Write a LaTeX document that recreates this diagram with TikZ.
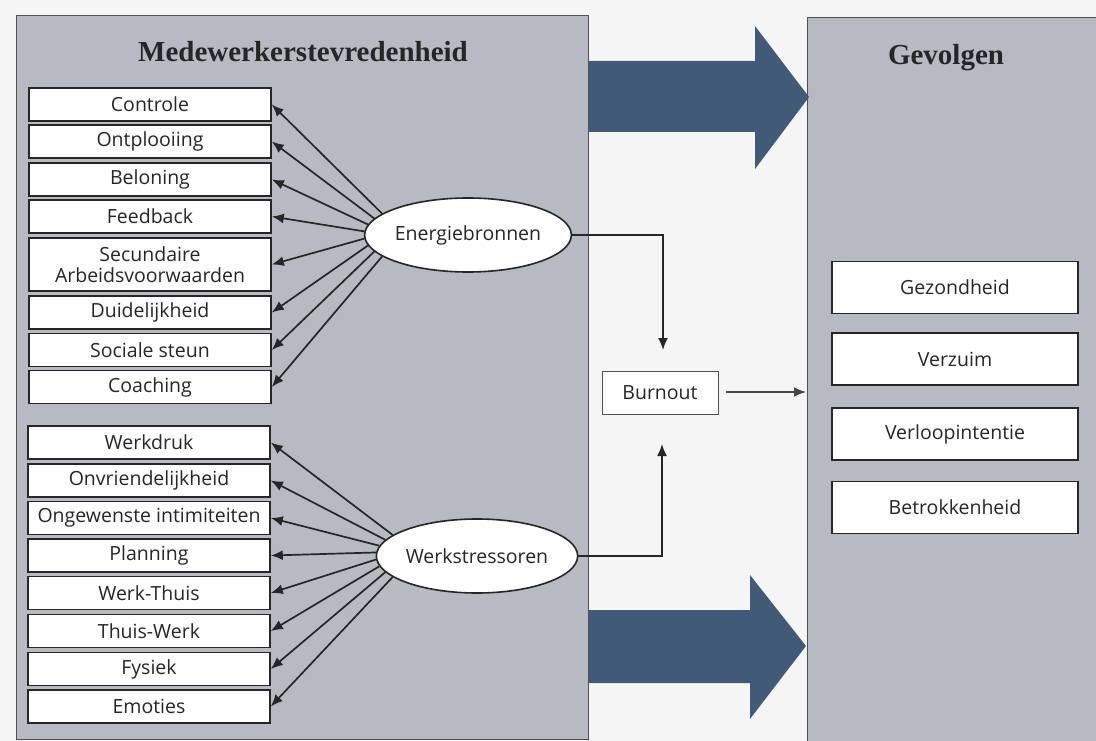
\documentclass[tikz,border=0pt]{standalone}
\usepackage{fontspec}
\setmainfont{Open Sans}
\newfontfamily\titlefont{Liberation Serif}
\usetikzlibrary{arrows.meta,shapes.geometric,calc}
\definecolor{pagebg}{HTML}{F5F5F6}
\definecolor{panel}{HTML}{B7BAC2}
\definecolor{bigarrow}{HTML}{405A78}
\definecolor{ink}{HTML}{262626}
\newcommand{\boxfont}{\fontsize{19.5}{21}\selectfont}
\begin{document}
\begin{tikzpicture}[x=1pt,y=-1pt,
  item/.style={draw=ink,line width=1.6pt,fill=white,minimum width=242pt,minimum height=33pt,
    inner sep=0pt,font=\boxfont,text=ink,align=center},
  result/.style={draw=ink,line width=1.6pt,fill=white,minimum width=246pt,minimum height=52pt,
    inner sep=0pt,font=\boxfont,text=ink},
  oval/.style={ellipse,draw=ink,line width=1.6pt,fill=white,minimum width=188pt,minimum height=74pt,
    inner sep=0pt,font=\boxfont,text=ink},
  conn/.style={draw=ink,line width=1.7pt,-{Latex[length=12pt,width=10pt]}},
  thinconn/.style={draw=ink!85,line width=1.7pt,-{Latex[length=12pt,width=10pt]}},
  paneledge/.style={draw=ink!80,line width=0.8pt},
  heading/.style={font=\titlefont\bfseries\fontsize{29}{32}\selectfont,text=ink,anchor=base}
]
\useasboundingbox (0,0) rectangle (1096,741);
\fill[pagebg] (0,0) rectangle (1096,741);
% panels
\draw[paneledge,fill=panel] (16,15) rectangle (588,739);
\draw[paneledge,fill=panel] (807,17) rectangle (1100,745);
% big arrows
\fill[bigarrow] (589,61) -- (755,61) -- (755,26) -- (809,97) -- (755,169) -- (755,132) -- (589,132) -- cycle;
\fill[bigarrow] (589,610) -- (750,610) -- (750,575) -- (806,646) -- (750,719) -- (750,683) -- (589,683) -- cycle;
% headings
\node[heading] (h1) at (303,62) {Medewerkerstevredenheid};
\node[heading] (h2) at (946,65) {Gevolgen};
% energy sources
\node[item] (c1) at (150,104.5) {Controle};
\node[item] (c2) at (150,141.5) {Ontplooiing};
\node[item] (c3) at (150,179.5) {Beloning};
\node[item] (c4) at (150,216.5) {Feedback};
\node[item,minimum height=53pt] (c5) at (150,264.5) {Secundaire\\Arbeidsvoorwaarden};
\node[item] (c6) at (150,312.5) {Duidelijkheid};
\node[item] (c7) at (150,350) {Sociale steun};
\node[item] (c8) at (150,387) {Coaching};
% stressors
\node[item] (s1) at (149,442.5) {Werkdruk};
\node[item] (s2) at (149,480.5) {Onvriendelijkheid};
\node[item] (s3) at (149,518) {Ongewenste intimiteiten};
\node[item] (s4) at (149,555.5) {Planning};
\node[item] (s5) at (149,593) {Werk-Thuis};
\node[item] (s6) at (149,631) {Thuis-Werk};
\node[item] (s7) at (149,669) {Fysiek};
\node[item] (s8) at (149,706.5) {Emoties};
% ellipses
\node[oval] (E) at (468,235) {Energiebronnen};
\node[oval] (W) at (477,556) {Werkstressoren};
\foreach \i in {1,...,8}{
  \pgfmathsetmacro{\ang}{166+(\i-1)*28/7}
  \draw[conn] (E.\ang) -- (c\i.east);
  \draw[conn] (W.\ang) -- (s\i.east);
}
% burnout
\node[draw=ink!80,line width=0.8pt,fill=white,minimum width=116pt,minimum height=43pt,inner sep=0pt,
  font=\boxfont,text=ink] (B) at (660,392.5) {Burnout};
\coordinate (bt) at (663,350);
\coordinate (bb) at (662,444);
\coordinate (bs) at (726,392);
\coordinate (ba) at (806,392);
\draw[conn] (E.east) -| (bt);
\draw[conn] (W.east) -| (bb);
\draw[thinconn] (bs) -- (ba);
% consequences
\node[result] (g1) at (955,287.5) {Gezondheid};
\node[result] (g2) at (955,359) {Verzuim};
\node[result] (g3) at (955,434) {Verloopintentie};
\node[result] (g4) at (955,507.5) {Betrokkenheid};
\end{tikzpicture}
\end{document}
